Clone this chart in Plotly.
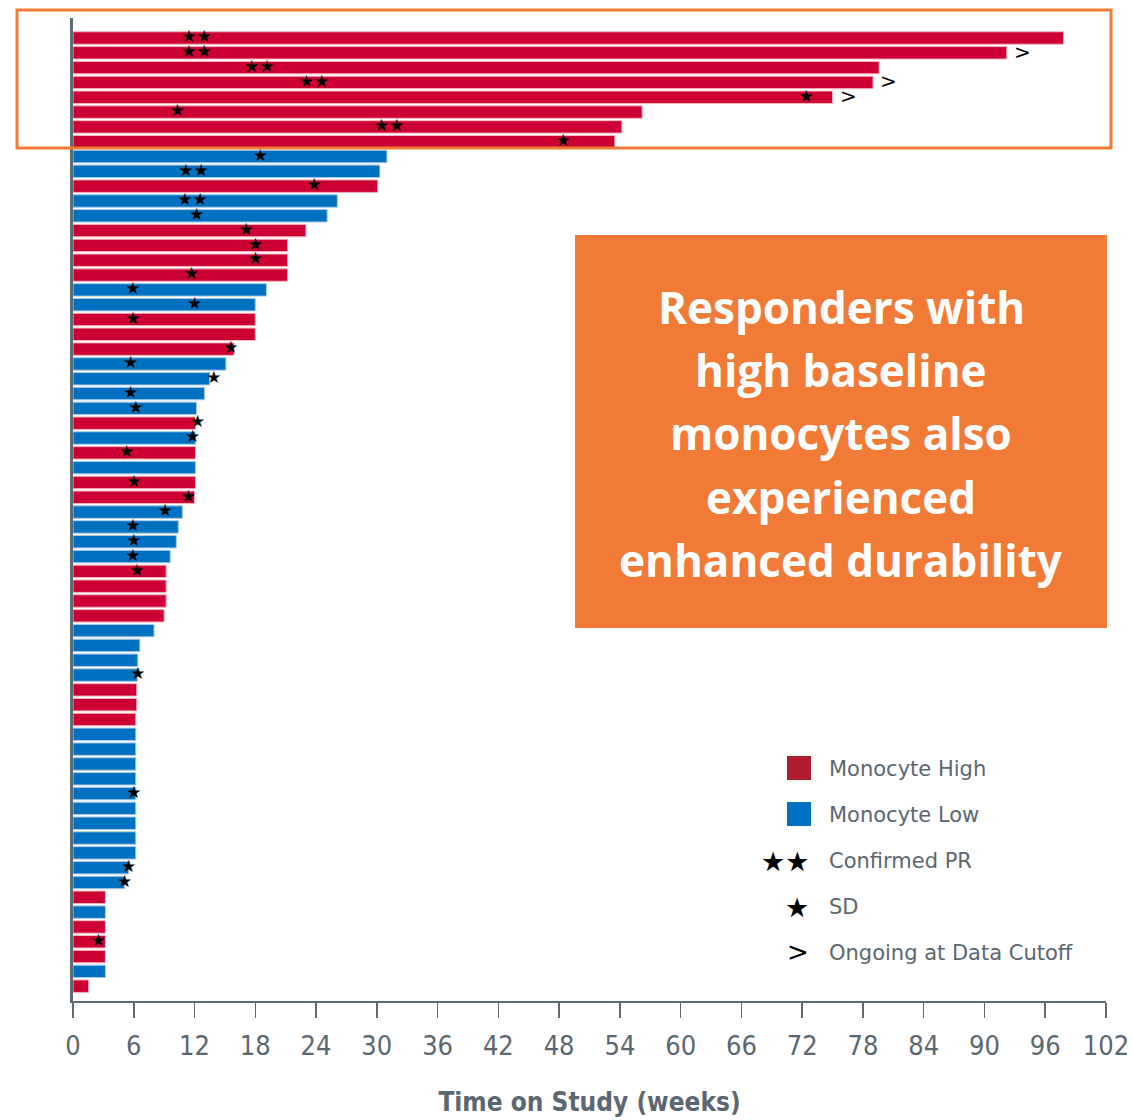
import plotly.graph_objects as go

# ---------------- data ----------------
weeks = [97.8, 92.2, 79.6, 79.0, 75.0, 56.2, 54.2, 53.5,
         31.0, 30.3, 30.1, 26.1, 25.1, 23.0, 21.2, 21.2, 21.2, 19.1, 18.0, 18.0,
         18.0, 15.9, 15.1, 13.5, 13.0, 12.2, 12.1, 12.1, 12.1, 12.1, 12.1, 12.0,
         10.8, 10.4, 10.2, 9.6, 9.2, 9.2, 9.2, 9.0, 8.0, 6.6, 6.4, 6.35, 6.3, 6.3,
         6.2, 6.2, 6.2, 6.2, 6.2, 6.2, 6.2, 6.2, 6.2, 6.2, 5.5, 5.1,
         3.2, 3.2, 3.2, 3.2, 3.2, 3.2, 1.55]

group = ["H", "H", "H", "H", "H", "H", "H", "H",
         "L", "L", "H", "L", "L", "H", "H", "H", "H", "L", "L", "H",
         "H", "H", "L", "L", "L", "L", "H", "L", "H", "L", "H", "H",
         "L", "L", "L", "L", "H", "H", "H", "H", "L", "L", "L", "L", "H", "H",
         "H", "L", "L", "L", "L", "L", "L", "L", "L", "L", "L", "L",
         "H", "L", "H", "H", "H", "L", "H"]

N = None
pr_week = [12.2, 12.2, 18.4, 23.8, N, N, 31.2, N,
           N, 11.9, N, 11.8, N, N, N, N, N, N, N, N,
           N, N, N, N, N, N, N, N, N, N, N, N,
           N, N, N, N, N, N, N, N, N, N, N, N, N, N,
           N, N, N, N, N, N, N, N, N, N, N, N,
           N, N, N, N, N, N, N]

sd_week = [N, N, N, N, 72.4, 10.3, N, 48.4,
           18.5, N, 23.8, N, 12.2, 17.1, 18.0, 18.0, 11.7, 5.9, 12.0, 5.9,
           N, 15.6, 5.7, 13.9, 5.7, 6.2, 12.3, 11.8, 5.3, N, 6.0, 11.4,
           9.1, 5.9, 6.0, 5.9, 6.3, N, N, N, N, N, N, 6.4, N, N,
           N, N, N, N, N, 6.0, N, N, N, N, 5.5, 5.1,
           N, N, N, 2.5, N, N, N]

ongoing = [False, True, False, True, True] + [False] * 60

x_ticks = list(range(0, 103, 6))

RED = "#CC0033"
BLUE = "#0070C0"
LEG_RED = "#B01E2D"
ORANGE = "#F07A36"
GRAY = "#5F6B73"
TXT = "#5B6770"

idx = list(range(len(weeks)))

fig = go.Figure()

for g, col, edge in [("H", RED, "#F4B6C4"), ("L", BLUE, "#A9CBEA")]:
    ys = [i for i in idx if group[i] == g]
    fig.add_trace(go.Bar(
        x=[weeks[i] for i in ys], y=ys, orientation="h",
        marker=dict(color=col, line=dict(color=edge, width=1)),
        width=0.84, showlegend=False, hoverinfo="skip"))

# PR (double stars)
pr_i = [i for i in idx if pr_week[i] is not None]
fig.add_trace(go.Scatter(
    x=[pr_week[i] for i in pr_i], y=pr_i, mode="text",
    text=["★★"] * len(pr_i), textposition="middle center",
    textfont=dict(family="DejaVu Sans", size=17, color="black"),
    showlegend=False, hoverinfo="skip"))

# SD (single star)
sd_i = [i for i in idx if sd_week[i] is not None]
fig.add_trace(go.Scatter(
    x=[sd_week[i] for i in sd_i], y=sd_i, mode="text",
    text=["★"] * len(sd_i), textposition="middle center",
    textfont=dict(family="DejaVu Sans", size=17, color="black"),
    showlegend=False, hoverinfo="skip"))

annotations = []
for i in idx:
    if ongoing[i]:
        annotations.append(dict(
            x=weeks[i], y=i, xref="x", yref="y", text=">", showarrow=False,
            xanchor="left", yanchor="middle", xshift=5, yshift=1,
            font=dict(family="DejaVu Sans", size=20, color="black")))

# ---------- layout geometry (screen pixels) ----------
W, H = 1133, 1120
L_PX, R_PX, T_PX, B_PX = 73, 1106, 18, 1001


def px_x(p):
    return (p - L_PX) / (R_PX - L_PX)


def px_y(p):
    return (B_PX - p) / (B_PX - T_PX)


shapes = []
# orange outline around top responders
shapes.append(dict(type="rect", xref="paper", yref="paper",
                   x0=px_x(17), x1=px_x(1111), y0=px_y(148), y1=px_y(10),
                   line=dict(color=ORANGE, width=3), fillcolor="rgba(0,0,0,0)"))
# orange callout box
shapes.append(dict(type="rect", xref="paper", yref="paper",
                   x0=px_x(575), x1=px_x(1107), y0=px_y(628), y1=px_y(235),
                   line=dict(width=0), fillcolor=ORANGE, layer="above"))

callout = ["Responders with", "high baseline", "monocytes also",
           "experienced", "enhanced durability"]
for k, line in enumerate(callout):
    annotations.append(dict(
        x=px_x(841), y=px_y(307 + 63.2 * k), xref="paper", yref="paper",
        text="<b>%s</b>" % line, showarrow=False, xanchor="center", yanchor="middle",
        font=dict(family="Open Sans", size=44, color="white")))

# legend
legend_rows = [756, 802]
for yy, col in zip(legend_rows, [LEG_RED, BLUE]):
    shapes.append(dict(type="rect", xref="paper", yref="paper",
                       x0=px_x(787), x1=px_x(811), y0=px_y(yy + 24), y1=px_y(yy),
                       line=dict(width=0), fillcolor=col))

legend_labels = ["Monocyte High", "Monocyte Low", "Confirmed PR", "SD", "Ongoing at Data Cutoff"]
legend_y = [769, 815, 861, 907, 953]
for lab, yy in zip(legend_labels, legend_y):
    annotations.append(dict(
        x=px_x(827), y=px_y(yy), xref="paper", yref="paper", text=lab,
        showarrow=False, xanchor="left", yanchor="middle",
        font=dict(family="DejaVu Sans", size=21, color=TXT)))

annotations.append(dict(x=px_x(811), y=px_y(861), xref="paper", yref="paper",
                        text="★★", showarrow=False, xanchor="right", yanchor="middle",
                        font=dict(family="DejaVu Sans", size=27, color="black")))
annotations.append(dict(x=px_x(811), y=px_y(907), xref="paper", yref="paper",
                        text="★", showarrow=False, xanchor="right", yanchor="middle",
                        font=dict(family="DejaVu Sans", size=27, color="black")))
annotations.append(dict(x=px_x(811), y=px_y(952), xref="paper", yref="paper",
                        text=">", showarrow=False, xanchor="right", yanchor="middle",
                        font=dict(family="DejaVu Sans", size=26, color="black")))

fig.update_layout(
    width=W, height=H,
    margin=dict(l=L_PX, r=W - R_PX, t=T_PX, b=H - B_PX, pad=0, autoexpand=False),
    plot_bgcolor="white", paper_bgcolor="white",
    bargap=0.16,
    xaxis=dict(range=[0, 102], tickvals=x_ticks, ticktext=[str(t) for t in x_ticks],
               automargin=False,
               showgrid=False, zeroline=False, showline=True, linecolor=GRAY, linewidth=2,
               ticks="outside", ticklen=15, tickwidth=1.5, tickcolor=GRAY,
               ticklabelstandoff=5,
               tickfont=dict(family="DejaVu Sans Condensed", size=27, color=TXT),
               title=dict(text="<b>Time on Study (weeks)</b>", standoff=32,
                          font=dict(family="DejaVu Sans Condensed", size=26, color=TXT))),
    yaxis=dict(range=[65.0, -1.35], showgrid=False, zeroline=False, showline=True,
               automargin=False,
               linecolor=GRAY, linewidth=3, showticklabels=False, ticks=""),
    shapes=shapes, annotations=annotations,
)

fig.write_html(
    "out.html",
    config={"displayModeBar": False, "staticPlot": True},
    post_script="document.body.style.margin='0px';document.body.style.overflow='hidden';",
)
